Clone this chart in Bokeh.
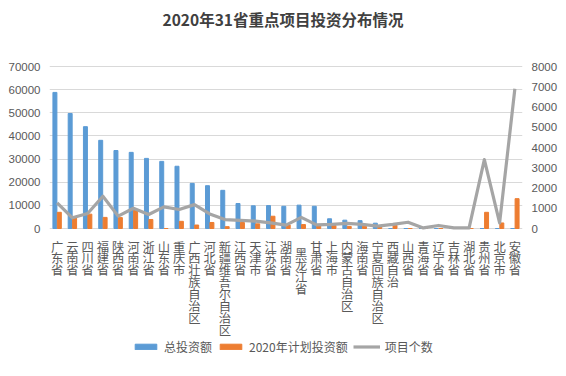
from bokeh.plotting import figure
from bokeh.models import (Range1d, LinearAxis, FactorRange, Legend, LegendItem,
                          NumeralTickFormatter, FixedTicker, ColumnDataSource)
from bokeh.core.properties import value
from bokeh.transform import dodge
from bokeh.embed import file_html
from bokeh.resources import INLINE

provinces = ["广东省", "云南省", "四川省", "福建省", "陕西省", "河南省", "浙江省", "山东省",
             "重庆市", "广西壮族自治区", "河北省", "新疆维吾尔自治区", "江西省", "天津市",
             "江苏省", "湖南省", "黑龙江省", "甘肃省", "上海市", "内蒙古自治区", "海南省",
             "宁夏回族自治区", "西藏自治", "山西省", "青海省", "辽宁省", "吉林省", "湖北省",
             "贵州省", "北京市", "安徽省"]
total_investment = [58800, 49700, 44000, 38100, 33700, 32900, 30300, 29000, 26900, 19500,
                    18500, 16500, 10800, 9800, 9900, 9600, 10100, 9600, 4200, 3600, 3400,
                    2300, 0, 0, 0, 0, 0, 0, 0, 0, 0]
plan_2020 = [7000, 4600, 6200, 4800, 4700, 7800, 3900, 0, 3100, 1500, 2600, 800, 2600, 2000,
             5300, 1500, 1700, 1100, 1300, 900, 900, 600, 1400, 0, 0, 0, 0, 0, 7000, 2400, 12900]
project_count = [1270, 530, 740, 1590, 610, 1000, 690, 1070, 940, 1180, 720, 440, 400, 360,
                 280, 170, 550, 180, 200, 250, 200, 120, 200, 310, 30, 150, 30, 30, 3400, 280, 6900]
left_ticks = [0, 10000, 20000, 30000, 40000, 50000, 60000, 70000]
right_ticks = [0, 1000, 2000, 3000, 4000, 5000, 6000, 7000, 8000]
title_text = "2020年31省重点项目投资分布情况"

CJK = "Noto Sans CJK SC"
TXT = "#595959"

# layout (pixels inside the figure)
W, H = 562, 360
BORDER_L, BORDER_R = 49, 40
PLOT_TOP, PLOT_BOTTOM = 66, 228          # pixel rows of the top tick and of zero
band = PLOT_BOTTOM - PLOT_TOP
u_left = left_ticks[-1] / band             # data units per pixel
u_right = right_ticks[-1] / band

y_left = Range1d(-(H - PLOT_BOTTOM) * u_left, left_ticks[-1] + PLOT_TOP * u_left)
y_right = Range1d(-(H - PLOT_BOTTOM) * u_right, right_ticks[-1] + PLOT_TOP * u_right)

src = ColumnDataSource(dict(prov=provinces, total=total_investment,
                            plan=plan_2020, count=project_count))

p = figure(width=W, height=H, x_range=FactorRange(factors=provinces), y_range=y_left,
           output_backend="svg", toolbar_location=None,
           min_border_left=BORDER_L, min_border_right=BORDER_R,
           min_border_top=0, min_border_bottom=0)
p.extra_y_ranges = {"cnt": y_right}
p.outline_line_color = None
p.xaxis.visible = False
p.xgrid.grid_line_color = None
p.ygrid.grid_line_color = "#D9D9D9"
p.ygrid.ticker = FixedTicker(ticks=left_ticks)

r1 = p.vbar(x=dodge("prov", -0.145, range=p.x_range), top="total", width=0.26,
            source=src, color="#5B9BD5")
r2 = p.vbar(x=dodge("prov", 0.145, range=p.x_range), top="plan", width=0.26,
            source=src, color="#ED7D31")
r3 = p.line(x="prov", y="count", source=src, y_range_name="cnt",
            line_color="#A5A5A5", line_width=3.2, line_join="round")


def style_axis(ax):
    ax.axis_line_color = None
    ax.major_tick_line_color = None
    ax.minor_tick_line_color = None
    ax.major_tick_out = 0
    ax.major_tick_in = 0
    ax.minor_tick_out = 0
    ax.minor_tick_in = 0
    ax.major_label_text_font = "Liberation Sans"
    ax.major_label_text_font_size = "11.5px"
    ax.major_label_text_color = TXT
    ax.major_label_standoff = 9


# left axis
p.yaxis.ticker = FixedTicker(ticks=left_ticks)
p.yaxis.formatter = NumeralTickFormatter(format="0")
style_axis(p.yaxis[0])

# right axis
ax2 = LinearAxis(y_range_name="cnt", ticker=FixedTicker(ticks=right_ticks),
                 formatter=NumeralTickFormatter(format="0"))
style_axis(ax2)
p.add_layout(ax2, "right")

# stacked (upright, one character per row) category labels under the baseline
STEP = 11.9
lab_x, lab_y, lab_t = [], [], []
for name in provinces:
    extra = 7 if name == "黑龙江省" else 0
    for j, ch in enumerate(name):
        lab_x.append(name)
        lab_y.append(-(9 + extra + STEP * j) * u_left)
        lab_t.append(ch)
p.text(x=lab_x, y=lab_y, text=lab_t, text_align="center", text_baseline="top",
       text_font=value(CJK), text_font_size="12.3px", text_color=TXT)

# title
p.text(x=[provinces[15]], y=[left_ticks[-1] + 48 * u_left], text=[title_text],
       x_offset=-3, text_align="center", text_baseline="middle",
       text_font=value(CJK), text_font_size="15.5px", text_font_style="bold",
       text_color="#404040")

legend = Legend(items=[LegendItem(label="总投资额", renderers=[r1]),
                       LegendItem(label="2020年计划投资额", renderers=[r2]),
                       LegendItem(label="项目个数", renderers=[r3])],
                location=(83, 5), orientation="horizontal")
legend.glyph_width = 27
legend.glyph_height = 7
legend.label_standoff = 5
legend.spacing = 5
legend.padding = 0
legend.margin = 0
legend.border_line_color = None
legend.background_fill_alpha = 0
legend.label_text_font = CJK
legend.label_text_font_size = "12px"
legend.label_text_color = TXT
p.add_layout(legend, "center")

open("out.html", "w").write(file_html(p, INLINE))
